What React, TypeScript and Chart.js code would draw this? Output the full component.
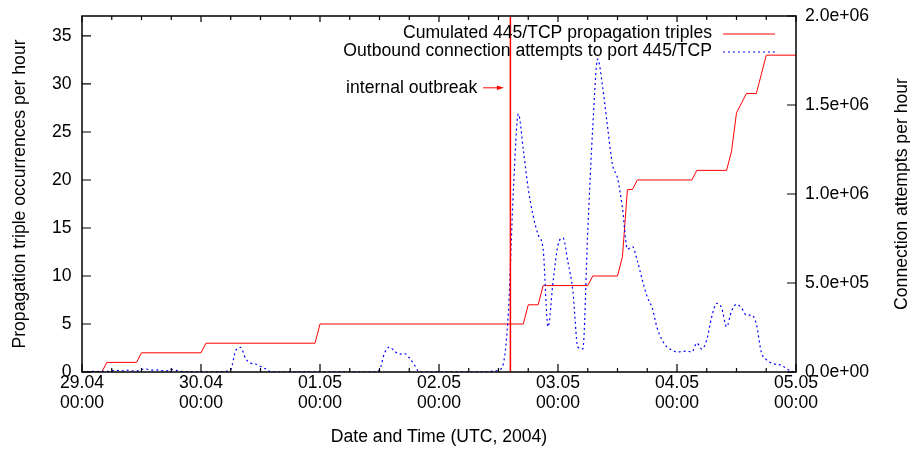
import { useEffect, useRef } from 'react';
import { Chart, registerables } from 'chart.js';

Chart.register(...registerables);

// Axis labels
const dayLabels = ['29.04', '30.04', '01.05', '02.05', '03.05', '04.05', '05.05'];
const timeLabel = '00:00';
const xTitle = 'Date and Time (UTC, 2004)';
const leftTitle = 'Propagation triple occurrences per hour';
const rightTitle = 'Connection attempts per hour';
const tripleLabel = 'Cumulated 445/TCP propagation triples';
const attemptsLabel = 'Outbound connection attempts to port 445/TCP';

// Cumulated propagation triples: hour offset since 29.04 00:00 and running count
const tripleHours = [0, 4, 5, 11, 12, 24, 25, 47, 48, 89, 90, 92, 93, 102, 103, 108, 109, 110, 111, 112, 123, 124, 130, 131, 132, 133, 134, 136, 137, 138, 144];
const tripleCounts = [0, 0, 1, 1, 2, 2, 3, 3, 5, 5, 7, 7, 9, 9, 10, 10, 12, 19, 19, 20, 20, 21, 21, 23, 27, 28, 29, 29, 31, 33, 33];

// Outbound connection attempts per hour, hours 0..144
const attemptsPerHour = [
  3000, 2000, 4000, 2000, 5000, 3000, 6000, 9000, 5000, 11000,
  7000, 5000, 14000, 16000, 10000, 12000, 8000, 6000, 14000, 9000,
  3000, 2000, 1000, 1000, 1000, 1000, 1000, 1000, 1000, 4000,
  15000, 120000, 138000, 75000, 50000, 45000, 31000, 18000, 2000, 1000,
  1000, 1000, 1000, 1000, 1000, 1000, 1000, 1000, 1000, 1000,
  1000, 1000, 1000, 1000, 1000, 1000, 1000, 1000, 1000, 1000,
  12000, 105000, 140000, 118000, 100000, 104000, 80000, 42000, 2000, 1000,
  1000, 1000, 1000, 1000, 1000, 1000, 1000, 1000, 1000, 1000,
  1000, 1000, 2000, 5000, 10000, 50000, 340000, 1020000, 1450000, 1250000,
  1030000, 876000, 770000, 690000, 254000, 506000, 713000, 753000, 618000, 455000,
  140000, 130000, 792000, 1368000, 1758000, 1601000, 1376000, 1163000, 1090000, 921000,
  690000, 705000, 624000, 517000, 421000, 360000, 247000, 180000, 140000, 124000,
  112000, 115000, 118000, 112000, 163000, 129000, 180000, 309000, 386000, 360000,
  254000, 343000, 380000, 360000, 320000, 320000, 270000, 112000, 70000, 51000,
  43000, 40000, 20000, 6000, 1000,
];

// Outbreak marker and its annotation
const outbreakHour = 86.4;
const outbreakText = 'internal outbreak';
const arrowLevel = 29.6;
const arrowFromHour = 80.9;
const arrowToHour = 85.1;
const outbreakTextHour = 79.7;

const FONT_FAMILY = "'Liberation Sans', Arial, Helvetica, sans-serif";
const FONT_SIZE = 17.6;
const RED = '#ff0000';
const BLUE = '#0000ff';

function sci(v: number): string {
  if (v === 0) return '0.0e+00';
  const e = Math.floor(Math.log10(Math.abs(v)) + 1e-9);
  const m = v / Math.pow(10, e);
  const sign = e < 0 ? '-' : '+';
  return `${m.toFixed(1)}e${sign}${String(Math.abs(e)).padStart(2, '0')}`;
}

const frame = {
  id: 'gnuplotFrame',
  afterDatasetsDraw(chart: any) {
    const { ctx, chartArea: a, scales } = chart;
    const x = scales.x;
    const y = scales.y;
    const y1 = scales.y1;
    ctx.save();

    // outbreak line
    const ox = x.getPixelForValue(outbreakHour);
    ctx.strokeStyle = RED;
    ctx.lineWidth = 1.5;
    ctx.beginPath();
    ctx.moveTo(ox, a.bottom);
    ctx.lineTo(ox, a.top);
    ctx.stroke();

    // arrow pointing at the outbreak line
    const ay = y.getPixelForValue(arrowLevel);
    const ax0 = x.getPixelForValue(arrowFromHour);
    const ax1 = x.getPixelForValue(arrowToHour);
    ctx.lineWidth = 1;
    ctx.beginPath();
    ctx.moveTo(ax0, ay);
    ctx.lineTo(ax1 - 5, ay);
    ctx.stroke();
    ctx.fillStyle = RED;
    ctx.beginPath();
    ctx.moveTo(ax1, ay);
    ctx.lineTo(ax1 - 7, ay - 2.2);
    ctx.lineTo(ax1 - 7, ay + 2.2);
    ctx.closePath();
    ctx.fill();

    ctx.font = `${FONT_SIZE}px ${FONT_FAMILY}`;
    ctx.fillStyle = '#000';
    ctx.textAlign = 'right';
    ctx.textBaseline = 'middle';
    ctx.fillText(outbreakText, x.getPixelForValue(outbreakTextHour), ay);

    // key
    const ds = chart.data.datasets;
    const keyTextX = a.right - 84;
    const rows = [a.top + 17.5, a.top + 35.5];
    ds.forEach((d: any, i: number) => {
      ctx.fillStyle = '#000';
      ctx.fillText(d.label, keyTextX, rows[i]);
      ctx.strokeStyle = d.borderColor;
      ctx.lineWidth = d.borderWidth;
      ctx.setLineDash(d.borderDash || []);
      ctx.beginPath();
      ctx.moveTo(a.right - 73, rows[i] + 0.5);
      ctx.lineTo(a.right - 21, rows[i] + 0.5);
      ctx.stroke();
      ctx.setLineDash([]);
    });

    // border
    ctx.strokeStyle = '#000';
    ctx.lineWidth = 1.5;
    ctx.strokeRect(a.left, a.top, a.right - a.left, a.bottom - a.top);

    // tick marks, pointing inwards
    ctx.lineWidth = 1.2;
    ctx.beginPath();
    for (const t of y.ticks) {
      const py = y.getPixelForValue(t.value);
      ctx.moveTo(a.left, py);
      ctx.lineTo(a.left + 9, py);
    }
    for (const t of y1.ticks) {
      const py = y1.getPixelForValue(t.value);
      ctx.moveTo(a.right, py);
      ctx.lineTo(a.right - 9, py);
    }
    for (let h = x.min; h <= x.max; h += 6) {
      const px = x.getPixelForValue(h);
      const major = h % 24 === 0;
      ctx.moveTo(px, a.bottom);
      ctx.lineTo(px, a.bottom - (major ? 8 : 4));
      ctx.moveTo(px, a.top);
      ctx.lineTo(px, a.top + (major ? 6 : 4));
    }
    ctx.stroke();

    // right axis title, reading bottom to top
    ctx.save();
    ctx.translate(902, (a.top + a.bottom) / 2);
    ctx.rotate(-Math.PI / 2);
    ctx.textAlign = 'center';
    ctx.textBaseline = 'middle';
    ctx.fillStyle = '#000';
    ctx.fillText(rightTitle, 0, 0);
    ctx.restore();

    ctx.restore();
  },
};

export default function App() {
  const ref = useRef<HTMLCanvasElement>(null);

  useEffect(() => {
    const canvas = ref.current;
    if (!canvas) return;
    const font = { family: FONT_FAMILY, size: FONT_SIZE };
    const fitVertical = (width: number) => (s: any) => {
      s.width = width;
      s.paddingTop = 0;
      s.paddingBottom = 0;
    };
    const chart = new Chart(canvas, {
      type: 'line',
      data: {
        datasets: [
          {
            label: tripleLabel,
            data: tripleHours.map((h, i) => ({ x: h, y: tripleCounts[i] })),
            yAxisID: 'y',
            borderColor: RED,
            borderWidth: 1,
            pointRadius: 0,
            tension: 0,
            fill: false,
            order: 2,
          },
          {
            label: attemptsLabel,
            data: attemptsPerHour.map((v, i) => ({ x: i, y: v })),
            yAxisID: 'y1',
            borderColor: BLUE,
            borderWidth: 1.2,
            borderDash: [2, 3],
            pointRadius: 0,
            cubicInterpolationMode: 'monotone',
            fill: false,
            order: 1,
          },
        ],
      },
      options: {
        responsive: false,
        animation: false,
        devicePixelRatio: 1,
        layout: { padding: { top: 16, left: 0, right: 0, bottom: 0 } },
        plugins: { legend: { display: false }, tooltip: { enabled: false } },
        scales: {
          x: {
            type: 'linear',
            min: 0,
            max: 144,
            afterFit: (s: any) => {
              s.height = 77;
              s.paddingLeft = 0;
              s.paddingRight = 0;
            },
            grid: { display: false, drawTicks: false },
            border: { display: false },
            ticks: {
              stepSize: 24,
              autoSkip: false,
              maxRotation: 0,
              minRotation: 0,
              padding: 1.5,
              color: '#000',
              font: { ...font, lineHeight: 20 / FONT_SIZE },
              callback: (v: any) => {
                const n = Number(v);
                return n % 24 === 0 ? [dayLabels[n / 24], timeLabel] : '';
              },
            },
            title: { display: true, text: xTitle, color: '#000', font, padding: { top: 0, bottom: 1.5 } },
          },
          y: {
            position: 'left',
            min: 0,
            max: 37.08,
            afterFit: fitVertical(82),
            grid: { display: false, drawTicks: false },
            border: { display: false },
            ticks: { stepSize: 5, includeBounds: false, padding: 10.5, color: '#000', font },
            title: { display: true, text: leftTitle, color: '#000', font, padding: { top: 9.5, bottom: 0 } },
          },
          y1: {
            position: 'right',
            min: 0,
            max: 2e6,
            afterFit: fitVertical(114),
            grid: { display: false, drawTicks: false },
            border: { display: false },
            ticks: { stepSize: 5e5, padding: 9, color: '#000', font, callback: (v: any) => sci(Number(v)) },
          },
        },
      },
      plugins: [frame],
    } as any);
    return () => chart.destroy();
  }, []);

  return (
    <div style={{ position: 'fixed', left: 0, top: 0, width: 910, height: 449, background: '#fff' }}>
      <canvas ref={ref} width={910} height={449} style={{ display: 'block', width: 910, height: 449 }} />
    </div>
  );
}
